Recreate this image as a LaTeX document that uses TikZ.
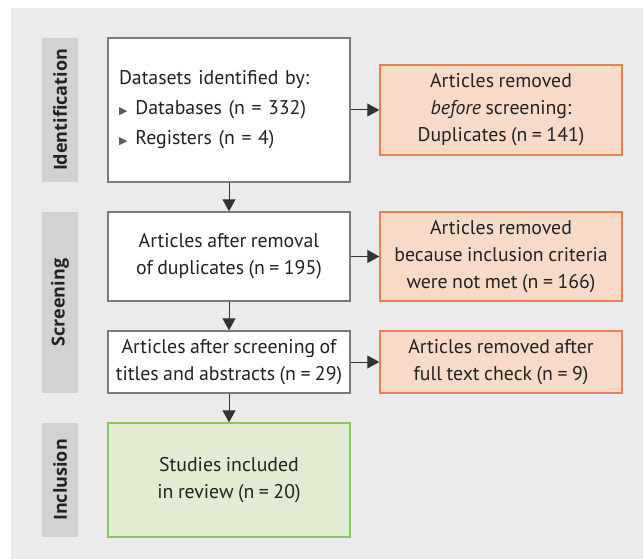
\documentclass[tikz,border=0pt]{standalone}
\usepackage{fontspec}
\setmainfont[WordSpace=0.85]{PT Sans}
\newfontfamily\labelfont{Open Sans}
\newfontfamily\symfont{DejaVu Sans}
\usetikzlibrary{arrows.meta}
\definecolor{bggray}{HTML}{EBEBED}
\definecolor{bargray}{HTML}{D2D2D4}
\definecolor{boxline}{HTML}{7A7A7A}
\definecolor{orfill}{HTML}{F8DAC8}
\definecolor{orline}{HTML}{E87F55}
\definecolor{grfill}{HTML}{E1ECD3}
\definecolor{grline}{HTML}{8DC85F}
\definecolor{txt}{HTML}{222222}
\definecolor{arr}{HTML}{333333}
\newcommand{\bul}{{\color{arr!80}\symfont\fontsize{11}{11}\selectfont ▶}\hspace{8pt}}
\begin{document}
\begin{tikzpicture}[x=1pt,y=-1pt,
  every node/.style={text=txt, font=\fontsize{19.8}{27}\selectfont},
  base/.style={rectangle, minimum width=242pt, inner sep=0pt, align=center, line width=1.4pt},
  whitebox/.style={base, draw=boxline, fill=white},
  orbox/.style={base, draw=orline, fill=orfill},
  grbox/.style={base, draw=grline, fill=grfill},
  stagebar/.style={rectangle, fill=bargray, minimum width=36pt, inner sep=0pt, rotate=90,
     font=\labelfont\bfseries\fontsize{18}{18}\selectfont, text=txt},
  flow/.style={draw=arr, line width=1pt, -{Triangle[width=13pt,length=12pt]}}
]
\useasboundingbox (0,0) rectangle (643,559);
\fill[bggray] (11,8) rectangle (643,559);
% stage bars
\node[stagebar, minimum height=36pt, minimum width=144pt] (sid) at (60,110) {Identification};
\node[stagebar, minimum height=36pt, minimum width=181pt] (ssc) at (60,302.5) {Screening};
\node[stagebar, minimum height=36pt, minimum width=114pt] (sin) at (60,480) {Inclusion};
% boxes
\node[whitebox, minimum height=144pt, text width=220pt, align=left, inner xsep=11pt,
  font=\fontsize{19.8}{30}\selectfont] (b1) at (229,110)
  {Datasets identified by:\\ \bul Databases (n = 332)\\ \bul Registers (n = 4)};
\node[orbox, minimum height=90pt] (o1) at (501,110)
  {Articles removed\\ \textit{before} screening:\\ Duplicates (n = 141)};
\node[whitebox, minimum height=89pt] (b2) at (229,256.5)
  {Articles after removal\\ of duplicates (n = 195)};
\node[orbox, minimum height=89pt] (o2) at (501,256.5)
  {Articles removed\\ because inclusion criteria\\ were not met (n = 166)};
\node[whitebox, minimum height=62pt] (b3) at (229,362)
  {Articles after screening of\\ titles and abstracts (n = 29)};
\node[orbox, minimum height=62pt] (o3) at (501,362)
  {Articles removed after\\ full text check (n = 9)};
\node[grbox, minimum height=114pt] (b4) at (229,480)
  {Studies included\\ in review (n = 20)};
% arrows
\draw[flow] (b1) -- (o1);
\draw[flow] (b2) -- (o2);
\draw[flow] (b3) -- (o3);
\draw[flow] (b1) -- (b2);
\draw[flow] (b2) -- (b3);
\draw[flow] (b3) -- (b4);
\end{tikzpicture}
\end{document}
